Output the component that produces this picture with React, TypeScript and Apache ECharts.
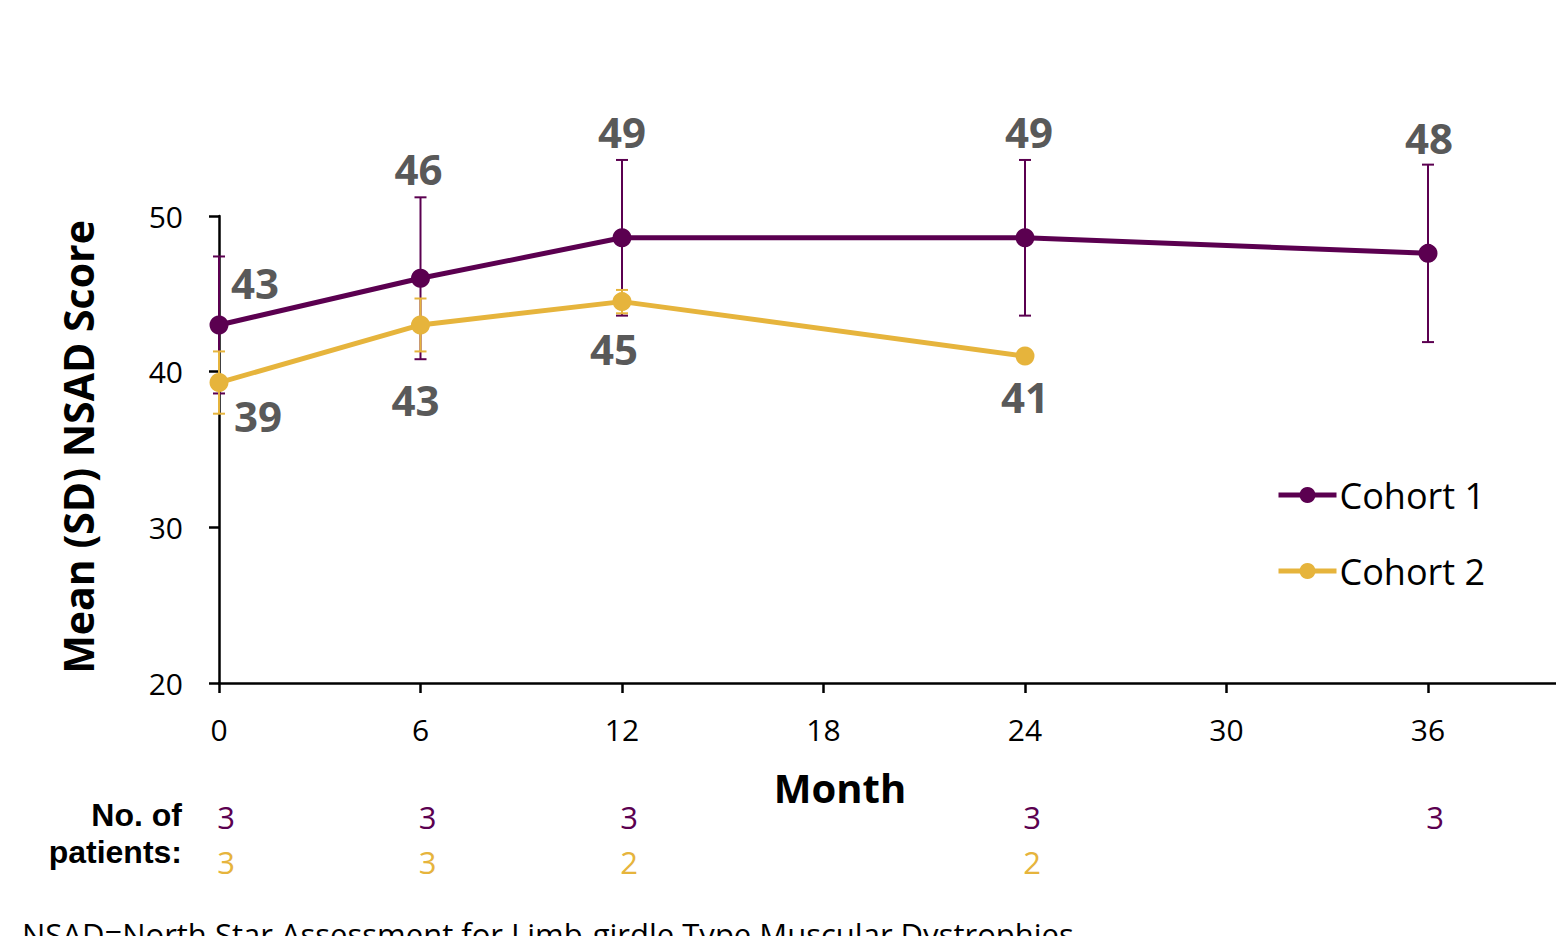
import React, { useEffect, useRef } from "react";
import * as echarts from "echarts";

// Visit months and NSAD scores (mean and SD) per cohort
const MONTHS_C1 = [0, 6, 12, 24, 36];
const MEAN_C1 = [43.0, 46.0, 48.6, 48.6, 47.6];
const SD_C1 = [4.4, 5.2, 5.0, 5.0, 5.7];
const N_C1 = [3, 3, 3, 3, 3];

const MONTHS_C2 = [0, 6, 12, 24];
const MEAN_C2 = [39.3, 43.0, 44.5, 41.0];
const SD_C2: (number | null)[] = [2.0, 1.7, 0.75, null];
const N_C2 = [3, 3, 2, 2];

const SERIES_NAMES = ["Cohort 1", "Cohort 2"];

// Value-label placement, pixel offsets from each marker centre
const LABEL_OFFSET_C1: [number, number][] = [[36, -42], [-2, -110], [0, -106], [4, -106], [1, -116]];
const LABEL_OFFSET_C2: [number, number][] = [[39, 33], [-5, 75], [-8, 47], [0, 40]];

const PURPLE = "#5B0050";
const GOLD = "#E6B43C";
const LABEL_GREY = "#595959";
const FONT = "'Open Sans', 'Noto Sans', sans-serif";
const SIDE_FONT = "'Liberation Sans', Arial, sans-serif";

// The drawing surface runs past the right edge of the window so the x axis continues off-page
const CANVAS_W = 1700;
const CANVAS_H = 936;

function errorBarSeries(months: number[], mean: number[], sd: (number | null)[], color: string) {
  const data = months
    .map((m, i) => (sd[i] == null ? null : [m, mean[i] - (sd[i] as number), mean[i] + (sd[i] as number)]))
    .filter((d) => d !== null);
  return {
    type: "custom",
    coordinateSystem: "cartesian2d",
    clip: false,
    silent: true,
    z: 1,
    encode: { x: 0, y: [1, 2] },
    data,
    renderItem: (_params: any, api: any) => {
      const x = api.value(0);
      const top = api.coord([x, api.value(2)]);
      const bot = api.coord([x, api.value(1)]);
      const hw = 6;
      const style = { stroke: color, lineWidth: 2 };
      return {
        type: "group",
        children: [
          { type: "line", shape: { x1: top[0], y1: top[1], x2: bot[0], y2: bot[1] }, style },
          { type: "line", shape: { x1: top[0] - hw, y1: top[1], x2: top[0] + hw, y2: top[1] }, style },
          { type: "line", shape: { x1: bot[0] - hw, y1: bot[1], x2: bot[0] + hw, y2: bot[1] }, style },
        ],
      };
    },
  };
}

function lineSeries(name: string, months: number[], mean: number[], offsets: [number, number][], color: string) {
  return {
    name,
    type: "line",
    z: 3,
    clip: false,
    symbol: "circle",
    symbolSize: 19,
    lineStyle: { color, width: 5 },
    itemStyle: { color },
    data: months.map((m, i) => ({
      value: [m, mean[i]],
      label: {
        show: true,
        position: "inside",
        offset: offsets[i],
        formatter: () => String(Math.round(mean[i])),
        color: LABEL_GREY,
        fontFamily: FONT,
        fontWeight: "bold",
        fontSize: 42,
      },
    })),
  };
}

function patientCountSeries(months: number[], counts: number[], color: string, y: number) {
  return {
    type: "custom",
    coordinateSystem: "cartesian2d",
    clip: false,
    silent: true,
    encode: { x: 0, y: 1 },
    data: months.map((m, i) => [m, 20, counts[i]]),
    renderItem: (_params: any, api: any) => {
      const p = api.coord([api.value(0), 20]);
      return {
        type: "text",
        x: p[0] + 7,
        y,
        style: {
          text: String(api.value(2)),
          fill: color,
          fontFamily: FONT,
          fontSize: 31,
          align: "center",
          verticalAlign: "middle",
        },
      };
    },
  };
}

export default function App() {
  const ref = useRef<HTMLDivElement>(null);

  useEffect(() => {
    if (!ref.current) return;
    const chart = echarts.init(ref.current, undefined, { renderer: "svg" });
    chart.setOption({
      animation: false,
      backgroundColor: "#fff",
      grid: { left: 219, top: 216, bottom: 253, width: 1410.5, containLabel: false },
      xAxis: {
        type: "value",
        min: 0,
        max: 42,
        interval: 6,
        splitLine: { show: false },
        axisLine: { lineStyle: { color: "#000", width: 2.5 } },
        axisTick: { show: true, length: 10, lineStyle: { color: "#000", width: 2.5 } },
        axisLabel: { color: "#000", fontFamily: FONT, fontSize: 30, margin: 31, showMaxLabel: false },
      },
      yAxis: {
        type: "value",
        min: 20,
        max: 50,
        interval: 10,
        splitLine: { show: false },
        axisLine: { show: true, lineStyle: { color: "#000", width: 2.5 } },
        axisTick: { show: true, length: 10, lineStyle: { color: "#000", width: 2.5 } },
        axisLabel: { color: "#000", fontFamily: FONT, fontSize: 30, margin: 36 },
      },
      legend: {
        data: SERIES_NAMES,
        orient: "vertical",
        left: 1271,
        top: 469,
        itemWidth: 58,
        itemHeight: 20,
        itemGap: 34,
        lineStyle: { width: 5 },
        textStyle: { color: "#000", fontFamily: FONT, fontSize: 36, lineHeight: 42, padding: [0, 0, 0, -2] },
      },
      graphic: [
        {
          type: "text",
          x: 78,
          y: 447,
          rotation: Math.PI / 2,
          style: {
            text: "Mean (SD) NSAD Score",
            fill: "#000",
            fontFamily: FONT,
            fontWeight: "bold",
            fontSize: 41,
            align: "center",
            verticalAlign: "middle",
          },
        },
        {
          type: "text",
          x: 840,
          y: 787,
          style: {
            text: "Month",
            fill: "#000",
            fontFamily: FONT,
            fontWeight: "bold",
            fontSize: 40,
            align: "center",
            verticalAlign: "middle",
          },
        },
        {
          type: "text",
          x: 182,
          y: 815,
          style: {
            text: "No. of",
            fill: "#000",
            fontFamily: SIDE_FONT,
            fontWeight: "bold",
            fontSize: 32,
            align: "right",
            verticalAlign: "middle",
          },
        },
        {
          type: "text",
          x: 182,
          y: 852,
          style: {
            text: "patients:",
            fill: "#000",
            fontFamily: SIDE_FONT,
            fontWeight: "bold",
            fontSize: 32,
            align: "right",
            verticalAlign: "middle",
          },
        },
        {
          type: "text",
          x: 22,
          y: 918,
          style: {
            text: "NSAD=North Star Assessment for Limb-girdle Type Muscular Dystrophies",
            fill: "#000",
            fontFamily: FONT,
            fontSize: 31,
            align: "left",
            verticalAlign: "top",
          },
        },
      ],
      series: [
        errorBarSeries(MONTHS_C1, MEAN_C1, SD_C1, PURPLE),
        errorBarSeries(MONTHS_C2, MEAN_C2, SD_C2, GOLD),
        lineSeries(SERIES_NAMES[0], MONTHS_C1, MEAN_C1, LABEL_OFFSET_C1, PURPLE),
        lineSeries(SERIES_NAMES[1], MONTHS_C2, MEAN_C2, LABEL_OFFSET_C2, GOLD),
        patientCountSeries(MONTHS_C1, N_C1, PURPLE, 817),
        patientCountSeries(MONTHS_C2, N_C2, GOLD, 862),
      ],
    });
    return () => chart.dispose();
  }, []);

  return (
    <div
      ref={ref}
      style={{ position: "fixed", left: 0, top: 0, width: CANVAS_W, height: CANVAS_H, background: "#fff" }}
    />
  );
}
